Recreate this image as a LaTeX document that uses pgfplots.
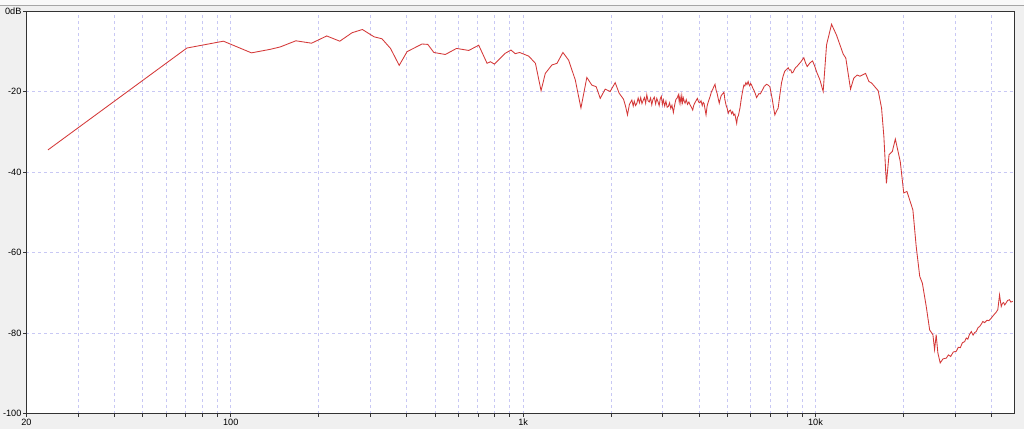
\documentclass[border=0pt]{standalone}
\usepackage{pgfplots}
\pgfplotsset{compat=1.18}
\usepackage{fontspec}
\setmainfont{Liberation Sans}
\definecolor{winbg}{HTML}{F0F0F0}
\definecolor{gridc}{HTML}{C8C8F4}
\definecolor{curve}{HTML}{D43838}
\begin{document}
\begin{tikzpicture}[x=1bp,y=1bp]
\fill[winbg] (0,0) rectangle (1024,429);
\fill[white!60!winbg] (0,424) rectangle (1024,429);
\draw[gray!70, line width=0.8bp] (0,423.5) -- (1024,423.5);
\useasboundingbox (0,0) rectangle (1024,429);
\begin{axis}[
    at={(26bp,15bp)}, anchor=south west,
    scale only axis, width=989bp, height=403bp,
    xmode=log, xmin=20, xmax=48000,
    ymin=-100, ymax=0,
    axis background/.style={fill=white},
    axis line style={draw=black!80, line width=0.8bp},
    tick pos=left, tick align=outside,
    major tick length=3bp, minor tick length=3bp,
    tick style={black!80, line width=0.6bp},
    xtick={20,100,1000,10000},
    xticklabels={20,100,1k,10k},
    minor xtick={30,40,50,60,70,80,90,200,300,400,500,600,700,800,900,
                 2000,3000,4000,5000,6000,7000,8000,9000,20000,30000,40000},
    ytick={-100,-80,-60,-40,-20,0},
    yticklabels={-100,-80,-60,-40,-20,0dB},
    grid=both,
    major grid style={gridc, dash pattern=on 3bp off 3bp, line width=0.7bp},
    minor grid style={gridc, dash pattern=on 3bp off 3bp, line width=0.7bp},
    ticklabel style={font=\fontsize{9.2}{10}\selectfont, text=black},
    xticklabel style={yshift=1bp},
    yticklabel style={xshift=1.5bp},
    clip=true,
]
\addplot[curve, line width=0.85bp] coordinates {
(23.7,-34.5) (70.8,-9.2) (94.4,-7.5) (117.7,-10.4) (137,-9.5) (148,-8.9)
(167,-7.4) (189,-8.0) (213,-6.2) (236,-7.5) (260,-5.4) (282,-4.6)
(309,-6.4) (329,-6.9) (352,-9.3) (377,-13.5) (401,-10.1) (451,-8.2)
(472,-8.3) (495,-10.3) (542,-10.8) (592,-9.3) (652,-9.8) (705,-8.5)
(753,-13.0) (773,-12.6) (798,-13.2) (869,-10.5) (909,-9.7) (940,-10.6)
(973,-10.3) (1045,-11.2) (1102,-13.0) (1152,-19.8) (1191,-15.5) (1255,-13.4)
(1306,-13.0) (1368,-10.3) (1431,-12.2) (1508,-17.1) (1577,-24.1) (1652,-16.5)
(1718,-18.4) (1778,-18.8) (1836,-21.7) (1909,-19.4) (1985,-20.0) (2065,-17.8)
(2130,-20.4) (2205,-21.9) (2240,-23.6) (2275,-25.8) (2310,-23.2) (2355,-22.1)
(2380,-23.6) (2400,-22.4) (2425,-23.5) (2449,-22.9) (2475,-21.6) (2500,-22.8)
(2525,-21.5) (2550,-23.0) (2575,-22.2) (2600,-21.5) (2625,-22.9) (2649,-20.8)
(2675,-22.3) (2700,-22.6) (2730,-21.6) (2755,-23.3) (2780,-22.0) (2810,-21.4)
(2840,-23.1) (2866,-21.7) (2895,-22.6) (2920,-23.5) (2945,-21.8) (2970,-21.2)
(2995,-23.2) (3020,-22.1) (3050,-23.6) (3080,-22.4) (3110,-23.9) (3139,-23.7)
(3170,-22.8) (3200,-24.2) (3230,-23.4) (3266,-25.2) (3300,-23.3) (3330,-22.0)
(3365,-21.6) (3397,-20.8) (3420,-22.6) (3440,-21.2) (3465,-22.9) (3490,-21.0)
(3510,-22.7) (3533,-21.6) (3560,-22.5) (3581,-22.9) (3615,-22.0) (3650,-23.2)
(3690,-22.6) (3724,-23.3) (3765,-23.9) (3803,-24.6) (3835,-23.4) (3870,-22.8)
(3910,-22.2) (3945,-21.7) (3985,-22.6) (4020,-22.8) (4060,-22.3) (4100,-23.5)
(4130,-22.7) (4160,-23.0) (4195,-24.6) (4224,-25.8) (4260,-23.6) (4290,-22.8)
(4325,-22.0) (4359,-21.3) (4410,-20.0) (4450,-19.5) (4490,-18.8) (4533,-18.2)
(4570,-19.6) (4610,-20.5) (4650,-21.8) (4687,-22.9) (4720,-21.9) (4760,-21.0)
(4810,-20.6) (4864,-20.2) (4900,-22.0) (4950,-23.5) (4990,-24.2) (5032,-25.4)
(5075,-24.8) (5120,-24.6) (5165,-25.5) (5210,-25.0) (5255,-25.9) (5300,-25.6)
(5340,-26.8) (5377,-27.9) (5410,-26.4) (5450,-26.0) (5485,-25.0) (5518,-24.1)
(5560,-22.4) (5600,-21.0) (5645,-19.6) (5690,-18.4) (5735,-18.6) (5780,-17.8)
(5830,-18.3) (5884,-17.5) (5920,-18.2) (5960,-18.6) (6000,-18.0) (6048,-18.4)
(6110,-19.2) (6170,-19.8) (6230,-20.6) (6290,-21.5) (6350,-21.0) (6410,-20.5)
(6475,-20.6) (6541,-20.0) (6610,-19.4) (6680,-18.7) (6740,-18.5) (6803,-18.2)
(6890,-18.4) (6983,-18.8) (7050,-20.4) (7120,-22.0) (7190,-24.0) (7262,-25.8)
(7355,-24.9) (7455,-24.1) (7550,-21.0) (7653,-17.9) (7750,-16.2) (7850,-15.0)
(7960,-14.5) (8067,-14.1) (8150,-14.7) (8230,-14.6) (8310,-15.4) (8390,-15.2)
(8475,-14.5) (8560,-14.0) (8640,-13.8) (8727,-13.4) (8920,-12.6) (9124,-11.6)
(9250,-12.9) (9371,-13.8) (9570,-12.9) (9773,-12.4) (9930,-13.6) (10087,-15.1)
(10357,-17.1) (10626,-20.0) (10913,-8.4) (11350,-3.3) (11804,-6.0) (12440,-10.7)
(12700,-11.7) (13180,-19.4) (13520,-16.7) (13890,-15.9) (14190,-16.2) (14840,-15.5)
(15230,-17.5) (15570,-17.9) (16390,-19.8) (16830,-24.1) (17140,-31.2) (17390,-39.9)
(17490,-42.8) (17850,-35.7) (18320,-34.9) (18760,-31.8) (19500,-37.4) (20040,-45.2)
(20550,-44.8) (21540,-49.4) (22110,-58.5) (22730,-65.9) (23210,-67.6) (23930,-73.4)
(24580,-79.2) (25220,-80.4) (25550,-84.1) (25880,-80.4) (26220,-84.9) (26710,-87.4)
(27300,-86.4) (28030,-86.2) (28500,-85.4) (29000,-85.8) (29600,-84.7) (30330,-84.5)
(30800,-83.5) (31300,-83.6) (31800,-82.4) (32380,-82.1) (32800,-81.2) (33200,-81.5)
(33600,-80.4) (34120,-79.6) (34600,-80.5) (35000,-79.9) (35480,-79.6) (36000,-78.6)
(36400,-78.4) (36900,-77.8) (37370,-77.1) (37900,-77.4) (38600,-76.8) (39200,-76.9)
(39910,-76.3) (40700,-75.5) (41400,-74.9) (42040,-74.2) (42620,-70.5) (43190,-73.4)
(43600,-72.6) (44000,-72.4) (44400,-73.0) (44880,-72.5) (45400,-71.9) (46090,-71.7)
(46600,-72.3) (47290,-72.1)
};
\end{axis}
\end{tikzpicture}
\end{document}
